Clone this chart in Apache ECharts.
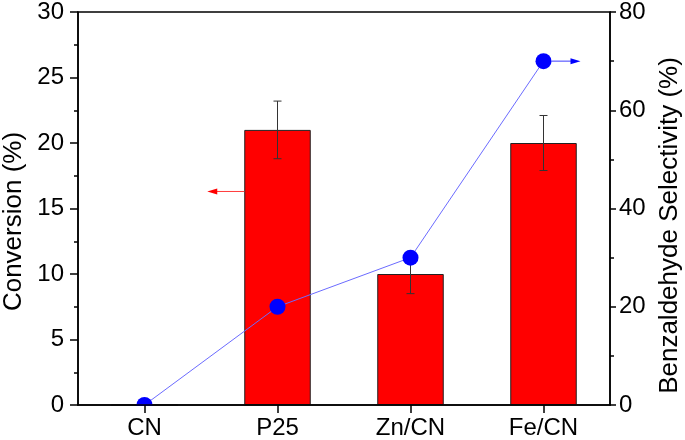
<!DOCTYPE html>
<html><head><meta charset="utf-8">
<script src="https://cdn.jsdelivr.net/npm/echarts@6/dist/echarts.min.js"></script>
<style>html,body{margin:0;padding:0;background:#fff}#c{width:685px;height:440px}</style>
</head><body><div id="c"></div>
<script>
const categories = ['CN', 'P25', 'Zn/CN', 'Fe/CN'];
const conversion = [0, 21, 10, 20];
const conversionErr = [0, 2.2, 1.5, 2.1];
const selectivity = [0, 20, 30, 70];
const leftTicks = [0, 5, 10, 15, 20, 25, 30];
const rightTicks = [0, 20, 40, 60, 80];

const FONT = 'Liberation Sans, Arial, sans-serif';
const chart = echarts.init(document.getElementById('c'), null, {renderer: 'canvas'});

const axisCommon = {
  axisLine: {show: true, lineStyle: {color: '#000', width: 1.5}},
  axisLabel: {color: '#000', fontSize: 24, fontFamily: FONT},
  splitLine: {show: false},
  nameTextStyle: {color: '#000', fontSize: 26, fontFamily: FONT}
};

chart.setOption({
  animation: false,
  backgroundColor: '#fff',
  grid: {left: 78, right: 75, top: 12, bottom: 35, containLabel: false, outerBoundsMode: 'none',
    show: true, borderColor: '#000', borderWidth: 1.5, backgroundColor: 'transparent'},
  xAxis: {
    type: 'category', data: categories, z: 10,
    axisLine: {lineStyle: {color: '#000', width: 1.5}},
    axisTick: {show: true, alignWithLabel: true, length: 8, lineStyle: {color: '#000', width: 1.5}},
    axisLabel: {color: '#000', fontSize: 24, fontFamily: FONT, margin: 11}
  },
  yAxis: [
    Object.assign({}, axisCommon, {
      type: 'value', min: leftTicks[0], max: leftTicks[leftTicks.length - 1], interval: 5,
      position: 'left', name: 'Conversion (%)', nameLocation: 'middle', nameGap: 49,
      nameTextStyle: Object.assign({}, axisCommon.nameTextStyle, {padding: [0, 26, 0, 0]}),
      axisTick: {show: true, length: 8, lineStyle: {color: '#000', width: 1.5}},
      minorTick: {show: true, splitNumber: 2, length: 4, lineStyle: {color: '#000', width: 1.5}},
      axisLabel: Object.assign({}, axisCommon.axisLabel, {margin: 14})
    }),
    Object.assign({}, axisCommon, {
      type: 'value', min: rightTicks[0], max: rightTicks[rightTicks.length - 1], interval: 20,
      position: 'right', name: 'Benzaldehyde Selectivity (%)', nameLocation: 'middle', nameGap: 46,
      nameTextStyle: Object.assign({}, axisCommon.nameTextStyle, {padding: [0, 34, 0, 0]}),
      axisTick: {show: true, length: 6, lineStyle: {color: '#000', width: 1.5}},
      minorTick: {show: true, splitNumber: 2, length: 4, lineStyle: {color: '#000', width: 1.5}},
      axisLabel: Object.assign({}, axisCommon.axisLabel, {margin: 9})
    })
  ],
  series: [
    {
      type: 'bar', yAxisIndex: 0, data: conversion, barWidth: '50%', z: 2,
      itemStyle: {color: '#ff0000', borderColor: '#222', borderWidth: 1}
    },
    {
      type: 'custom', yAxisIndex: 0, z: 3,
      data: categories.map((c, i) => [i, conversion[i], conversionErr[i]]),
      renderItem: function (params, api) {
        const i = api.value(0), v = api.value(1), e = api.value(2);
        if (!e) return null;
        const top = api.coord([i, v + e]);
        const bot = api.coord([i, v - e]);
        const cw = 4;
        const st = {stroke: '#333', lineWidth: 1};
        return {type: 'group', children: [
          {type: 'line', shape: {x1: top[0], y1: top[1], x2: bot[0], y2: bot[1]}, style: st},
          {type: 'line', shape: {x1: top[0] - cw, y1: top[1], x2: top[0] + cw, y2: top[1]}, style: st},
          {type: 'line', shape: {x1: bot[0] - cw, y1: bot[1], x2: bot[0] + cw, y2: bot[1]}, style: st}
        ]};
      }
    },
    {
      type: 'line', yAxisIndex: 1, data: selectivity, z: 5,
      symbol: 'circle', symbolSize: 16,
      lineStyle: {color: '#6b6bff', width: 1},
      itemStyle: {color: '#0000ff'}
    }
  ]
});

// annotations: arrows pointing to each axis, and mask below x axis
const p0 = chart.convertToPixel({xAxisIndex: 0, yAxisIndex: 0}, [0, 0]);
const p1 = chart.convertToPixel({xAxisIndex: 0, yAxisIndex: 0}, [1, 0]);
const bw = (p1[0] - p0[0]) * 0.5;
const pRed = chart.convertToPixel({xAxisIndex: 0, yAxisIndex: 0}, [1, 16.3]);
const pBlue = chart.convertToPixel({xAxisIndex: 0, yAxisIndex: 1}, [3, 70]);
const pZero = chart.convertToPixel({xAxisIndex: 0, yAxisIndex: 1}, [0, 0]);
const rx0 = pRed[0] - bw / 2, rx1 = rx0 - 37, ry = pRed[1];
const bx0 = pBlue[0] + 8, bx1 = pBlue[0] + 37, by = pBlue[1];
chart.setOption({
  graphic: [
    {type: 'rect', z: 6, shape: {x: pZero[0] - 10, y: pZero[1] + 1, width: 20, height: 10}, style: {fill: '#fff'}},
    {type: 'line', z: 6, shape: {x1: rx0, y1: ry, x2: rx1 + 8, y2: ry}, style: {stroke: '#ff3b3b', lineWidth: 1}},
    {type: 'polygon', z: 6, shape: {points: [[rx1, ry], [rx1 + 10, ry - 3], [rx1 + 10, ry + 3]]}, style: {fill: '#ff0000'}},
    {type: 'line', z: 6, shape: {x1: bx0, y1: by, x2: bx1 - 8, y2: by}, style: {stroke: '#3b3bff', lineWidth: 1}},
    {type: 'polygon', z: 6, shape: {points: [[bx1, by], [bx1 - 10, by - 3], [bx1 - 10, by + 3]]}, style: {fill: '#0000ff'}}
  ]
});
</script></body></html>
